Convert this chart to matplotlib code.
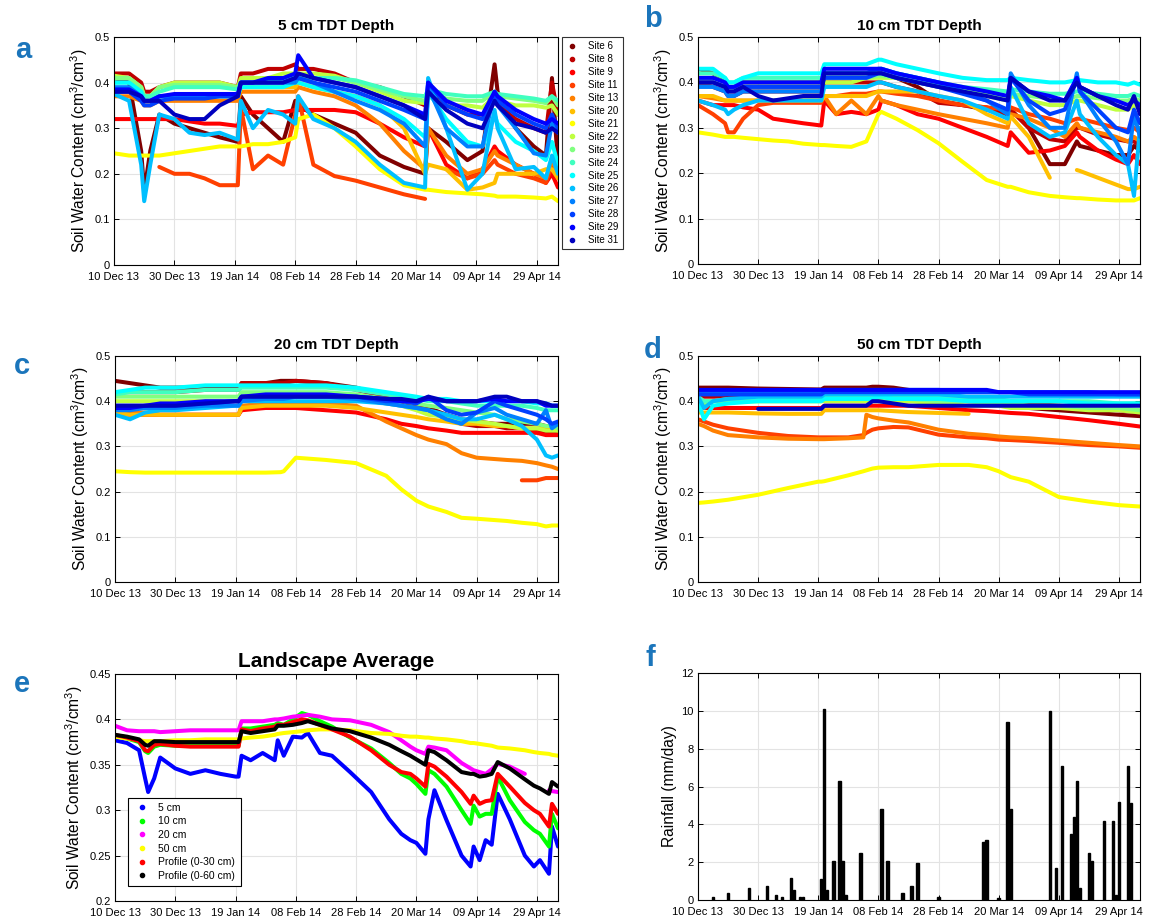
import numpy as np
import matplotlib
matplotlib.use("Agg")
import matplotlib.pyplot as plt
from matplotlib.lines import Line2D

plt.rcParams['font.family'] = ['Liberation Sans', 'DejaVu Sans']
plt.rcParams['mathtext.default'] = 'regular'

nan = None

# ---- common axis data (day 0 = 10 Dec 2013) ----
date_ticks = [0, 20, 40, 60, 80, 100, 120, 140]
date_labels = ['10 Dec 13', '30 Dec 13', '19 Jan 14', '08 Feb 14',
               '28 Feb 14', '20 Mar 14', '09 Apr 14', '29 Apr 14']

sites = ['Site 6', 'Site 8', 'Site 9', 'Site 11', 'Site 13', 'Site 20', 'Site 21', 'Site 22',
         'Site 23', 'Site 24', 'Site 25', 'Site 26', 'Site 27', 'Site 28', 'Site 29', 'Site 31']

# ---- (a) 5 cm and (b) 10 cm ----
days_ab = [0, 5, 9, 10, 12, 15, 20, 25, 30, 35, 41, 42, 46, 51, 56, 60, 61, 66, 73, 80, 88, 96,
           103, 104, 110, 117, 122, 126, 127, 133, 139, 143, 145, 147]

swc_5cm = [
    [0.41, 0.40, 0.25, 0.16, 0.25, 0.33, 0.31, 0.30, 0.29, 0.28, 0.27, 0.37, 0.33, 0.30, 0.27, 0.36, 0.35, 0.33, 0.31, 0.29, 0.24, 0.215, 0.20, 0.30, 0.27, 0.23, 0.25, 0.44, 0.38, 0.30, 0.26, 0.24, 0.41, 0.22],
    [0.42, 0.42, 0.40, 0.38, 0.38, 0.39, 0.40, 0.40, 0.40, 0.40, 0.39, 0.42, 0.42, 0.43, 0.43, 0.44, 0.43, 0.43, 0.42, 0.40, 0.39, 0.37, 0.35, 0.38, 0.35, 0.33, 0.33, 0.36, 0.35, 0.32, 0.30, 0.29, 0.40, 0.33],
    [0.32, 0.32, 0.32, 0.32, 0.32, 0.32, 0.32, 0.315, 0.31, 0.31, 0.305, 0.33, 0.335, 0.335, 0.335, 0.34, 0.34, 0.34, 0.34, 0.335, 0.31, 0.28, 0.26, 0.30, 0.22, 0.19, 0.21, 0.26, 0.25, 0.22, 0.20, 0.18, 0.20, 0.17],
    [nan, nan, nan, nan, nan, 0.215, 0.20, 0.20, 0.19, 0.175, 0.175, 0.345, 0.21, 0.24, 0.22, 0.33, 0.37, 0.22, 0.195, 0.185, 0.17, 0.155, 0.145, nan, 0.21, 0.19, 0.20, 0.23, 0.22, 0.20, 0.19, 0.18, 0.22, 0.19],
    [0.37, 0.37, 0.36, 0.35, 0.35, 0.36, 0.36, 0.36, 0.36, 0.36, 0.36, 0.38, 0.38, 0.38, 0.38, 0.38, 0.39, 0.38, 0.37, 0.35, 0.31, 0.25, 0.21, 0.30, 0.24, 0.20, 0.21, 0.25, 0.24, 0.22, 0.20, 0.19, 0.23, 0.20],
    [0.38, 0.38, 0.37, 0.36, 0.36, 0.37, 0.37, 0.37, 0.37, 0.37, 0.37, 0.39, 0.39, 0.39, 0.39, 0.39, 0.40, 0.39, 0.38, 0.37, 0.35, 0.30, 0.20, 0.22, 0.21, 0.165, 0.17, 0.18, 0.20, 0.20, 0.20, 0.21, 0.21, 0.19],
    [0.245, 0.24, 0.24, 0.24, 0.24, 0.24, 0.245, 0.25, 0.255, 0.26, 0.26, 0.26, 0.265, 0.265, 0.27, 0.28, 0.32, 0.33, 0.30, 0.26, 0.21, 0.175, 0.165, 0.165, 0.16, 0.157, 0.155, 0.152, 0.15, 0.15, 0.148, 0.146, 0.15, 0.14],
    [0.415, 0.41, 0.39, 0.37, 0.37, 0.39, 0.40, 0.40, 0.40, 0.40, 0.39, 0.41, 0.41, 0.41, 0.42, 0.42, 0.42, 0.42, 0.415, 0.40, 0.38, 0.36, 0.355, 0.37, 0.35, 0.35, 0.345, 0.37, 0.36, 0.35, 0.35, 0.345, 0.35, 0.33],
    [0.41, 0.41, 0.39, 0.37, 0.37, 0.39, 0.395, 0.395, 0.395, 0.395, 0.39, 0.40, 0.40, 0.405, 0.41, 0.41, 0.41, 0.41, 0.41, 0.40, 0.385, 0.37, 0.36, 0.38, 0.365, 0.36, 0.36, 0.38, 0.37, 0.365, 0.36, 0.355, 0.37, 0.35],
    [0.40, 0.40, 0.38, 0.37, 0.37, 0.38, 0.39, 0.39, 0.39, 0.39, 0.385, 0.40, 0.40, 0.40, 0.41, 0.41, 0.41, 0.41, 0.41, 0.405, 0.39, 0.375, 0.37, 0.385, 0.375, 0.37, 0.37, 0.38, 0.375, 0.37, 0.365, 0.36, 0.37, 0.36],
    [0.40, 0.40, 0.38, 0.36, 0.36, 0.37, 0.37, 0.37, 0.37, 0.37, 0.37, 0.39, 0.39, 0.39, 0.39, 0.40, 0.40, 0.39, 0.38, 0.37, 0.35, 0.32, 0.28, 0.38, 0.32, 0.27, 0.26, 0.33, 0.31, 0.27, 0.25, 0.23, 0.27, 0.22],
    [0.375, 0.36, 0.22, 0.14, 0.22, 0.33, 0.32, 0.29, 0.285, 0.29, 0.275, 0.36, 0.30, 0.34, 0.33, 0.31, 0.37, 0.32, 0.30, 0.27, 0.22, 0.18, 0.17, 0.41, 0.30, 0.165, 0.20, 0.34, 0.30, 0.21, 0.215, 0.19, 0.24, 0.20],
    [0.39, 0.39, 0.37, 0.36, 0.36, 0.37, 0.37, 0.37, 0.37, 0.37, 0.37, 0.40, 0.40, 0.40, 0.40, 0.40, 0.41, 0.40, 0.38, 0.36, 0.34, 0.31, 0.26, 0.39, 0.30, 0.26, 0.26, 0.38, 0.35, 0.30, 0.245, 0.24, 0.31, 0.29],
    [0.38, 0.38, 0.36, 0.35, 0.35, 0.36, 0.365, 0.365, 0.365, 0.37, 0.37, 0.40, 0.40, 0.40, 0.40, 0.41, 0.41, 0.40, 0.39, 0.38, 0.36, 0.34, 0.32, 0.40, 0.35, 0.33, 0.32, 0.37, 0.36, 0.33, 0.31, 0.30, 0.33, 0.30],
    [0.385, 0.385, 0.37, 0.36, 0.36, 0.37, 0.375, 0.375, 0.375, 0.375, 0.375, 0.40, 0.40, 0.41, 0.41, 0.42, 0.46, 0.41, 0.40, 0.39, 0.37, 0.35, 0.33, 0.40, 0.36, 0.34, 0.33, 0.38, 0.37, 0.34, 0.32, 0.31, 0.32, 0.31],
    [0.38, 0.38, 0.37, 0.36, 0.36, 0.36, 0.33, 0.32, 0.32, 0.35, 0.37, 0.40, 0.40, 0.40, 0.40, 0.41, 0.42, 0.41, 0.40, 0.39, 0.37, 0.35, 0.32, 0.38, 0.34, 0.31, 0.30, 0.36, 0.35, 0.31, 0.30, 0.29, 0.30, 0.29],
]

swc_10cm = [
    [0.43, 0.42, 0.40, 0.39, 0.39, 0.40, 0.40, 0.40, 0.40, 0.40, 0.40, 0.42, 0.42, 0.42, 0.42, 0.42, 0.42, 0.41, 0.39, 0.36, 0.35, 0.34, 0.33, 0.34, 0.30, 0.22, 0.22, 0.27, 0.26, 0.25, 0.24, 0.24, 0.26, 0.25],
    [0.40, 0.39, 0.38, 0.37, 0.37, 0.38, 0.38, 0.38, 0.38, 0.38, 0.38, 0.40, 0.40, 0.40, 0.40, 0.40, 0.40, 0.39, 0.38, 0.355, 0.35, 0.345, 0.33, 0.34, 0.30, 0.275, 0.27, 0.30, 0.30, 0.285, 0.275, 0.27, 0.27, 0.26],
    [0.36, 0.35, 0.35, 0.35, 0.35, 0.345, 0.34, 0.32, 0.315, 0.31, 0.305, 0.36, 0.33, 0.335, 0.33, 0.34, 0.36, 0.35, 0.33, 0.32, 0.30, 0.28, 0.26, 0.29, 0.245, 0.25, 0.26, 0.29, 0.28, 0.25, 0.23, 0.22, 0.24, 0.22],
    [0.35, 0.33, 0.31, 0.29, 0.29, 0.32, 0.35, 0.355, 0.355, 0.355, 0.355, 0.37, 0.37, 0.375, 0.375, 0.38, 0.38, 0.375, 0.37, 0.36, 0.35, 0.345, 0.34, 0.345, 0.33, 0.32, 0.31, 0.32, 0.32, 0.31, 0.30, 0.295, 0.30, 0.29],
    [0.37, 0.365, 0.36, 0.36, 0.36, 0.36, 0.36, 0.36, 0.36, 0.36, 0.36, 0.37, 0.33, 0.36, 0.33, 0.37, 0.36, 0.35, 0.34, 0.33, 0.32, 0.31, 0.30, 0.33, 0.32, 0.30, 0.28, 0.31, 0.30, 0.29, 0.28, 0.27, 0.28, 0.27],
    [0.37, 0.37, 0.36, 0.36, 0.36, 0.36, 0.36, 0.36, 0.36, 0.36, 0.36, 0.37, 0.37, 0.37, 0.37, 0.38, 0.38, 0.38, 0.38, 0.37, 0.36, 0.33, 0.31, 0.325, 0.28, 0.19, nan, 0.207, 0.205, 0.19, 0.175, 0.165, 0.165, 0.17],
    [0.29, 0.285, 0.28, 0.28, 0.28, 0.278, 0.275, 0.272, 0.27, 0.265, 0.262, 0.262, 0.26, 0.258, 0.27, 0.33, 0.335, 0.32, 0.295, 0.266, 0.225, 0.185, 0.17, 0.17, 0.158, 0.15, 0.147, 0.145, 0.145, 0.142, 0.14, 0.14, 0.14, 0.145],
    [0.40, 0.40, 0.39, 0.38, 0.38, 0.39, 0.39, 0.39, 0.39, 0.39, 0.39, 0.40, 0.40, 0.40, 0.41, 0.41, 0.41, 0.41, 0.40, 0.39, 0.38, 0.37, 0.36, 0.37, 0.36, 0.35, 0.35, 0.36, 0.36, 0.35, 0.34, 0.34, 0.35, 0.34],
    [0.41, 0.41, 0.40, 0.39, 0.39, 0.40, 0.40, 0.40, 0.40, 0.40, 0.40, 0.41, 0.41, 0.41, 0.41, 0.415, 0.415, 0.41, 0.40, 0.395, 0.385, 0.375, 0.37, 0.375, 0.37, 0.365, 0.36, 0.37, 0.37, 0.365, 0.36, 0.36, 0.365, 0.36],
    [0.42, 0.42, 0.41, 0.40, 0.40, 0.41, 0.41, 0.41, 0.41, 0.41, 0.41, 0.42, 0.42, 0.42, 0.42, 0.43, 0.43, 0.42, 0.41, 0.40, 0.39, 0.385, 0.38, 0.385, 0.38, 0.375, 0.375, 0.38, 0.38, 0.375, 0.37, 0.37, 0.375, 0.37],
    [0.43, 0.43, 0.41, 0.40, 0.40, 0.41, 0.42, 0.42, 0.42, 0.42, 0.42, 0.44, 0.44, 0.44, 0.44, 0.45, 0.45, 0.44, 0.43, 0.42, 0.41, 0.405, 0.405, 0.41, 0.405, 0.40, 0.40, 0.405, 0.405, 0.40, 0.40, 0.395, 0.40, 0.395],
    [0.36, 0.35, 0.34, 0.33, 0.34, 0.35, 0.36, 0.36, 0.36, 0.36, 0.36, 0.39, 0.39, 0.39, 0.39, 0.40, 0.40, 0.39, 0.38, 0.37, 0.36, 0.34, 0.32, 0.39, 0.31, 0.28, 0.29, 0.36, 0.33, 0.28, 0.24, 0.22, 0.15, 0.30],
    [0.39, 0.39, 0.38, 0.37, 0.37, 0.38, 0.38, 0.38, 0.38, 0.38, 0.38, 0.42, 0.42, 0.42, 0.42, 0.43, 0.43, 0.42, 0.41, 0.40, 0.38, 0.36, 0.33, 0.42, 0.35, 0.30, 0.30, 0.42, 0.38, 0.32, 0.27, 0.22, 0.33, 0.28],
    [0.40, 0.40, 0.39, 0.38, 0.38, 0.39, 0.39, 0.39, 0.39, 0.39, 0.39, 0.41, 0.41, 0.41, 0.41, 0.42, 0.42, 0.41, 0.40, 0.39, 0.375, 0.36, 0.34, 0.41, 0.36, 0.33, 0.34, 0.41, 0.38, 0.34, 0.30, 0.29, 0.34, 0.31],
    [0.41, 0.41, 0.40, 0.39, 0.39, 0.40, 0.40, 0.40, 0.40, 0.40, 0.40, 0.43, 0.43, 0.43, 0.43, 0.43, 0.43, 0.42, 0.41, 0.40, 0.39, 0.38, 0.37, 0.41, 0.38, 0.37, 0.36, 0.41, 0.39, 0.37, 0.36, 0.35, 0.36, 0.35],
    [0.40, 0.40, 0.39, 0.38, 0.38, 0.39, 0.37, 0.36, 0.365, 0.37, 0.37, 0.42, 0.42, 0.42, 0.42, 0.42, 0.42, 0.41, 0.40, 0.39, 0.38, 0.37, 0.36, 0.41, 0.38, 0.36, 0.36, 0.40, 0.39, 0.37, 0.35, 0.34, 0.37, 0.33],
]

# ---- (c) 20 cm ----
days_c = [0, 5, 10, 15, 20, 30, 40, 41, 42, 50, 55, 56, 60, 70, 80, 90, 95, 100, 104, 110, 115,
          120, 126, 130, 135, 140, 143, 145, 147]

swc_20cm = [
    [0.445, 0.44, 0.435, 0.43, 0.43, 0.43, 0.43, 0.43, 0.44, 0.44, 0.445, 0.445, 0.445, 0.44, 0.43, 0.41, 0.40, 0.39, 0.385, 0.37, 0.36, 0.355, 0.35, 0.35, 0.35, 0.35, 0.345, 0.345, 0.34],
    [0.42, 0.42, 0.42, 0.42, 0.42, 0.425, 0.425, 0.425, 0.44, 0.44, 0.44, 0.44, 0.445, 0.44, 0.425, 0.41, 0.40, 0.39, 0.38, 0.36, 0.35, 0.345, 0.345, 0.34, 0.34, 0.335, 0.33, 0.33, 0.33],
    [0.375, 0.37, 0.37, 0.37, 0.37, 0.37, 0.37, 0.37, 0.38, 0.385, 0.385, 0.385, 0.385, 0.38, 0.375, 0.36, 0.35, 0.345, 0.34, 0.335, 0.33, 0.33, 0.33, 0.33, 0.33, 0.33, 0.325, 0.325, 0.325],
    [nan, nan, nan, nan, nan, nan, nan, nan, nan, nan, nan, nan, nan, nan, nan, nan, nan, nan, nan, nan, nan, nan, nan, nan, 0.225, 0.225, 0.23, 0.23, 0.23],
    [0.38, 0.375, 0.375, 0.37, 0.37, 0.37, 0.37, 0.37, 0.39, 0.395, 0.395, 0.395, 0.395, 0.395, 0.39, 0.355, 0.34, 0.325, 0.315, 0.305, 0.285, 0.275, 0.272, 0.27, 0.268, 0.263, 0.258, 0.255, 0.25],
    [0.375, 0.37, 0.37, 0.37, 0.37, 0.37, 0.37, 0.37, 0.385, 0.39, 0.39, 0.39, 0.39, 0.39, 0.385, 0.375, 0.37, 0.365, 0.36, 0.355, 0.35, 0.35, 0.345, 0.345, 0.34, 0.34, 0.34, 0.34, 0.335],
    [0.245, 0.243, 0.242, 0.242, 0.242, 0.242, 0.242, 0.242, 0.242, 0.242, 0.243, 0.245, 0.275, 0.27, 0.263, 0.235, 0.205, 0.18, 0.167, 0.155, 0.142, 0.14, 0.137, 0.135, 0.131, 0.128, 0.123, 0.125, 0.125],
    [0.40, 0.40, 0.40, 0.40, 0.40, 0.40, 0.40, 0.40, 0.41, 0.41, 0.41, 0.41, 0.41, 0.41, 0.405, 0.395, 0.39, 0.38, 0.37, 0.365, 0.36, 0.355, 0.35, 0.345, 0.34, 0.34, 0.335, 0.335, 0.335],
    [0.41, 0.41, 0.41, 0.41, 0.41, 0.41, 0.41, 0.41, 0.42, 0.42, 0.42, 0.42, 0.42, 0.42, 0.415, 0.405, 0.40, 0.395, 0.39, 0.385, 0.38, 0.375, 0.37, 0.36, 0.355, 0.35, 0.345, 0.345, 0.34],
    [0.415, 0.42, 0.42, 0.42, 0.42, 0.425, 0.425, 0.425, 0.43, 0.43, 0.43, 0.43, 0.43, 0.43, 0.425, 0.415, 0.41, 0.405, 0.40, 0.40, 0.395, 0.39, 0.39, 0.39, 0.39, 0.385, 0.38, 0.38, 0.38],
    [0.42, 0.425, 0.43, 0.43, 0.43, 0.435, 0.435, 0.435, 0.435, 0.435, 0.435, 0.435, 0.435, 0.435, 0.43, 0.42, 0.415, 0.41, 0.405, 0.405, 0.40, 0.40, 0.40, 0.40, 0.40, 0.395, 0.395, 0.39, 0.39],
    [0.37, 0.36, 0.375, 0.38, 0.38, 0.385, 0.39, 0.39, 0.40, 0.40, 0.40, 0.40, 0.40, 0.40, 0.40, 0.395, 0.39, 0.385, 0.38, 0.37, 0.36, 0.36, 0.37, 0.36, 0.345, 0.315, 0.28, 0.275, 0.28],
    [0.38, 0.38, 0.385, 0.385, 0.385, 0.39, 0.39, 0.39, 0.40, 0.405, 0.405, 0.405, 0.41, 0.41, 0.405, 0.395, 0.39, 0.385, 0.38, 0.36, 0.35, 0.375, 0.385, 0.37, 0.36, 0.35, 0.38, 0.34, 0.35],
    [0.39, 0.39, 0.39, 0.39, 0.39, 0.395, 0.40, 0.40, 0.41, 0.41, 0.41, 0.41, 0.41, 0.41, 0.41, 0.40, 0.40, 0.395, 0.41, 0.38, 0.37, 0.375, 0.40, 0.39, 0.38, 0.37, 0.36, 0.35, 0.355],
    [0.385, 0.385, 0.39, 0.395, 0.395, 0.40, 0.40, 0.40, 0.41, 0.415, 0.415, 0.415, 0.415, 0.415, 0.41, 0.405, 0.40, 0.40, 0.405, 0.40, 0.40, 0.40, 0.405, 0.40, 0.40, 0.40, 0.39, 0.39, 0.39],
    [0.39, 0.39, 0.39, 0.39, 0.39, 0.395, 0.40, 0.40, 0.41, 0.41, 0.41, 0.41, 0.41, 0.41, 0.41, 0.405, 0.405, 0.40, 0.41, 0.40, 0.40, 0.40, 0.41, 0.41, 0.40, 0.40, 0.395, 0.39, 0.39],
]

# ---- (d) 50 cm ----
days_d = [0, 2, 5, 10, 20, 30, 40, 41, 42, 50, 55, 56, 58, 60, 65, 70, 80, 90, 96, 100, 104,
          110, 120, 130, 140, 147]

swc_50cm = [
    [0.43, 0.43, 0.43, 0.43, 0.428, 0.427, 0.426, 0.426, 0.43, 0.43, 0.43, 0.43, 0.432, 0.432, 0.43, 0.425, 0.415, 0.405, 0.40, 0.395, 0.39, 0.385, 0.38, 0.375, 0.37, 0.367],
    [0.41, 0.41, 0.41, 0.41, 0.41, 0.41, 0.41, 0.41, 0.415, 0.415, 0.415, 0.415, 0.415, 0.415, 0.415, 0.41, 0.405, 0.40, 0.40, 0.40, 0.40, 0.395, 0.39, 0.385, 0.38, 0.375],
    [0.39, 0.385, 0.385, 0.385, 0.385, 0.385, 0.385, 0.385, 0.39, 0.39, 0.39, 0.39, 0.39, 0.39, 0.39, 0.39, 0.385, 0.38, 0.378, 0.376, 0.374, 0.372, 0.365, 0.358, 0.35, 0.344],
    [0.36, 0.355, 0.348, 0.34, 0.33, 0.323, 0.32, 0.32, 0.32, 0.32, 0.325, 0.33, 0.337, 0.34, 0.343, 0.342, 0.326, 0.32, 0.318, 0.315, 0.314, 0.312, 0.308, 0.303, 0.30, 0.297],
    [0.35, 0.345, 0.335, 0.325, 0.32, 0.317, 0.316, 0.316, 0.316, 0.318, 0.32, 0.37, 0.365, 0.362, 0.357, 0.353, 0.337, 0.328, 0.325, 0.322, 0.32, 0.318, 0.313, 0.308, 0.303, 0.30],
    [0.375, 0.375, 0.375, 0.375, 0.373, 0.372, 0.372, 0.372, 0.38, 0.38, 0.38, 0.38, 0.38, 0.38, 0.378, 0.376, 0.374, 0.372, nan, nan, nan, nan, nan, nan, nan, nan],
    [0.175, 0.176, 0.178, 0.182, 0.193, 0.208, 0.222, 0.222, 0.223, 0.236, 0.245, 0.247, 0.251, 0.253, 0.254, 0.254, 0.259, 0.259, 0.254, 0.245, 0.232, 0.222, 0.188, 0.178, 0.17, 0.167],
    [0.40, 0.40, 0.40, 0.40, 0.40, 0.40, 0.40, 0.40, 0.40, 0.40, 0.40, 0.40, 0.40, 0.40, 0.40, 0.40, 0.395, 0.39, 0.39, 0.39, 0.385, 0.385, 0.385, 0.38, 0.38, 0.375],
    [0.395, 0.395, 0.40, 0.40, 0.40, 0.40, 0.40, 0.40, 0.405, 0.405, 0.405, 0.405, 0.405, 0.405, 0.405, 0.405, 0.40, 0.40, 0.395, 0.395, 0.395, 0.39, 0.39, 0.385, 0.385, 0.38],
    [0.41, 0.40, 0.40, 0.405, 0.405, 0.405, 0.405, 0.405, 0.41, 0.41, 0.41, 0.41, 0.41, 0.41, 0.41, 0.41, 0.41, 0.405, 0.405, 0.405, 0.40, 0.40, 0.40, 0.40, 0.395, 0.395],
    [0.40, 0.36, 0.39, 0.395, 0.40, 0.40, 0.40, 0.40, 0.405, 0.405, 0.405, 0.405, 0.405, 0.41, 0.405, 0.405, 0.405, 0.40, 0.40, 0.40, 0.40, 0.40, 0.40, 0.395, 0.395, 0.395],
    [0.41, 0.385, 0.40, 0.405, 0.41, 0.41, 0.41, 0.41, 0.415, 0.415, 0.415, 0.415, 0.415, 0.415, 0.415, 0.415, 0.415, 0.41, 0.41, 0.41, 0.41, 0.41, 0.41, 0.41, 0.41, 0.41],
    [0.42, 0.42, 0.42, 0.42, 0.42, 0.42, 0.42, 0.42, 0.425, 0.425, 0.425, 0.425, 0.425, 0.425, 0.425, 0.425, 0.425, 0.42, 0.42, 0.42, 0.42, 0.42, 0.42, 0.42, 0.415, 0.415],
    [0.415, 0.415, 0.415, 0.415, 0.415, 0.415, 0.415, 0.415, 0.42, 0.42, 0.42, 0.42, 0.42, 0.42, 0.42, 0.42, 0.42, 0.42, 0.42, 0.42, 0.42, 0.415, 0.415, 0.415, 0.415, 0.415],
    [0.425, 0.425, 0.425, 0.425, 0.425, 0.425, 0.425, 0.425, 0.425, 0.425, 0.425, 0.425, 0.425, 0.425, 0.425, 0.425, 0.425, 0.425, 0.425, 0.42, 0.42, 0.42, 0.42, 0.42, 0.42, 0.42],
    [nan, nan, nan, nan, 0.383, 0.383, 0.383, 0.383, 0.39, 0.39, 0.39, 0.39, 0.40, 0.40, 0.395, 0.39, 0.39, 0.39, 0.39, 0.39, 0.39, 0.39, 0.39, 0.39, 0.39, 0.39],
]

# ---- (e) landscape average ----
days_e = [0, 4, 8, 10, 11, 13, 15, 20, 25, 30, 35, 40, 41, 42, 45, 49, 53, 54, 56, 59, 62, 64,
          68, 72, 78, 85, 91, 95, 98, 100, 103, 104, 106, 110, 115, 118, 119, 121, 123, 125,
          127, 131, 136, 139, 141, 144, 145, 147]
avg_labels = ['5 cm', '10 cm', '20 cm', '50 cm', 'Profile (0-30 cm)', 'Profile (0-60 cm)']
avg_colors = ['#0000ff', '#00ff00', '#ff00ff', '#ffff00', '#ff0000', '#000000']
avg_5cm = [0.377, 0.374, 0.366, 0.335, 0.32, 0.335, 0.358, 0.346, 0.34, 0.344, 0.34, 0.337, 0.337, 0.36, 0.355, 0.363, 0.355, 0.377, 0.36, 0.381, 0.38, 0.385, 0.363, 0.36, 0.342, 0.32, 0.29, 0.274, 0.267, 0.264, 0.252, 0.29, 0.322, 0.289, 0.25, 0.238, 0.26, 0.245, 0.267, 0.262, 0.318, 0.29, 0.25, 0.238, 0.245, 0.23, 0.282, 0.26]
avg_10cm = [0.382, 0.379, 0.375, 0.365, 0.363, 0.37, 0.372, 0.371, 0.371, 0.371, 0.371, 0.371, 0.371, 0.39, 0.39, 0.392, 0.394, 0.396, 0.394, 0.40, 0.407, 0.405, 0.398, 0.392, 0.38, 0.368, 0.352, 0.34, 0.335, 0.329, 0.318, 0.344, 0.34, 0.326, 0.30, 0.285, 0.305, 0.293, 0.296, 0.296, 0.337, 0.311, 0.287, 0.278, 0.274, 0.26, 0.296, 0.28]
avg_20cm = [0.393, 0.388, 0.387, 0.387, 0.387, 0.387, 0.386, 0.387, 0.388, 0.388, 0.388, 0.388, 0.388, 0.398, 0.398, 0.398, 0.40, 0.40, 0.401, 0.403, 0.404, 0.405, 0.403, 0.40, 0.399, 0.394, 0.386, 0.377, 0.37, 0.366, 0.362, 0.37, 0.369, 0.366, 0.352, 0.346, 0.344, 0.342, 0.34, 0.345, 0.351, 0.348, 0.34, nan, nan, 0.322, 0.321, 0.32]
avg_50cm = [0.381, 0.379, 0.377, 0.376, 0.376, 0.376, 0.376, 0.377, 0.377, 0.378, 0.378, 0.378, 0.378, 0.379, 0.38, 0.381, 0.383, 0.384, 0.385, 0.386, 0.387, 0.388, 0.389, 0.389, 0.388, 0.385, 0.384, 0.382, 0.381, 0.381, 0.38, 0.38, 0.379, 0.378, 0.376, 0.374, 0.374, 0.373, 0.372, 0.371, 0.369, 0.368, 0.366, 0.364, 0.363, 0.362, 0.361, 0.36]
avg_prof30 = [0.383, 0.38, 0.376, 0.366, 0.365, 0.372, 0.373, 0.371, 0.37, 0.37, 0.37, 0.37, 0.37, 0.389, 0.387, 0.39, 0.392, 0.394, 0.394, 0.397, 0.40, 0.399, 0.394, 0.389, 0.381, 0.366, 0.35, 0.342, 0.34, 0.335, 0.326, 0.351, 0.348, 0.337, 0.32, 0.307, 0.316, 0.307, 0.31, 0.311, 0.34, 0.326, 0.308, 0.30, 0.296, 0.282, 0.307, 0.296]
avg_prof60 = [0.383, 0.381, 0.378, 0.372, 0.371, 0.376, 0.376, 0.375, 0.375, 0.375, 0.375, 0.375, 0.375, 0.387, 0.385, 0.387, 0.389, 0.393, 0.393, 0.394, 0.396, 0.398, 0.394, 0.39, 0.387, 0.38, 0.372, 0.365, 0.36, 0.356, 0.35, 0.366, 0.364, 0.355, 0.342, 0.34, 0.34, 0.337, 0.338, 0.34, 0.353, 0.346, 0.334, 0.327, 0.324, 0.318, 0.331, 0.326]

# ---- (f) rainfall ----
rain_day = [5, 10, 17, 23, 26, 28, 31, 32, 34, 35, 41, 42, 43, 45, 47, 48, 49, 54, 61, 63, 68, 71,
            73, 80, 95, 96, 100, 103, 104, 117, 119, 121, 124, 125, 126, 127, 130, 131, 135, 138,
            139, 140, 143, 144]
rain_mm = [0.15, 0.35, 0.65, 0.75, 0.25, 0.15, 1.15, 0.55, 0.15, 0.15, 1.1, 10.1, 0.55, 2.05, 6.3,
           2.05, 0.25, 2.5, 4.8, 2.05, 0.35, 0.75, 1.95, 0.15, 3.05, 3.15, 0.1, 9.4, 4.8, 10.0, 1.7,
           7.1, 3.5, 4.4, 6.3, 0.65, 2.5, 2.05, 4.2, 4.2, 0.25, 5.2, 7.1, 5.15]

# MATLAB jet(16), flipped (Site 6 dark red ... Site 31 dark blue)
site_colors = [(0.5, 0, 0), (0.75, 0, 0), (1, 0, 0), (1, 0.25, 0), (1, 0.5, 0), (1, 0.75, 0),
               (1, 1, 0), (0.75, 1, 0.25), (0.5, 1, 0.5), (0.25, 1, 0.75), (0, 1, 1),
               (0, 0.75, 1), (0, 0.5, 1), (0, 0.25, 1), (0, 0, 1), (0, 0, 0.75)]

W, H = 1151, 922
fig = plt.figure(figsize=(W / 100, H / 100), dpi=100)


def px_axes(left, top, right, bottom):
    return fig.add_axes([left / W, 1 - bottom / H, (right - left) / W, (bottom - top) / H])


def style(ax, ymin, ymax, yticks, ylabels):
    ax.set_xlim(0, 147)
    ax.set_ylim(ymin, ymax)
    ax.set_xticks(date_ticks)
    ax.set_xticklabels(date_labels)
    ax.set_yticks(yticks)
    ax.set_yticklabels(ylabels)
    ax.grid(True, color='#e3e3e3', lw=0.8)
    ax.set_axisbelow(True)
    ax.tick_params(direction='in', top=True, right=True, length=3.5, width=0.7,
                   labelsize=8)
    ax.tick_params(axis='x', pad=5)
    ax.tick_params(axis='y', pad=3)
    for s in ax.spines.values():
        s.set_linewidth(0.8)


def site_panel(ax, days, table, title):
    for vals, col in zip(table, site_colors):
        ax.plot(days, np.array(vals, dtype=float), color=col, lw=2.9,
                solid_capstyle='round', solid_joinstyle='round')
    style(ax, 0, 0.5, [0, 0.1, 0.2, 0.3, 0.4, 0.5], ['0', '0.1', '0.2', '0.3', '0.4', '0.5'])
    ax.set_title(title, fontsize=11, fontweight='bold', pad=5)
    ax.set_ylabel('Soil Water Content (cm$^3$/cm$^3$)', fontsize=11.2, labelpad=3)


ax_a = px_axes(114, 37, 558, 265)
ax_b = px_axes(698, 37, 1140, 264)
ax_c = px_axes(115, 356, 558, 582)
ax_d = px_axes(698, 356, 1140, 582)
ax_e = px_axes(115, 674, 558, 901)
ax_f = px_axes(698, 673, 1140, 900)

site_panel(ax_a, days_ab, swc_5cm, '5 cm TDT Depth')
site_panel(ax_b, days_ab, swc_10cm, '10 cm TDT Depth')
site_panel(ax_c, days_c, swc_20cm, '20 cm TDT Depth')
site_panel(ax_d, days_d, swc_50cm, '50 cm TDT Depth')

handles = [Line2D([], [], ls='none', marker='.', markersize=6, color=c) for c in site_colors]
leg = ax_a.legend(handles, sites, loc='upper left', bbox_to_anchor=(1.009, 1.0), fontsize=7,
                  frameon=True, fancybox=False, edgecolor='black', labelspacing=0.3,
                  handlelength=1.2, handletextpad=1.0, borderpad=0.45, borderaxespad=0)
leg.get_frame().set_linewidth(0.8)

# landscape average
for vals, col in zip([avg_5cm, avg_10cm, avg_20cm, avg_50cm, avg_prof30, avg_prof60], avg_colors):
    ax_e.plot(days_e, np.array(vals, dtype=float), color=col, lw=2.9,
              solid_capstyle='round', solid_joinstyle='round')
style(ax_e, 0.2, 0.45, [0.2, 0.25, 0.3, 0.35, 0.4, 0.45],
      ['0.2', '0.25', '0.3', '0.35', '0.4', '0.45'])
ax_e.set_title('Landscape Average', fontsize=15, fontweight='bold', pad=5)
ax_e.set_ylabel('Soil Water Content (cm$^3$/cm$^3$)', fontsize=11.2, labelpad=3)
h_e = [Line2D([], [], ls='none', marker='.', markersize=6, color=c) for c in avg_colors]
leg_e = ax_e.legend(h_e, avg_labels, loc='lower left', bbox_to_anchor=(0.03, 0.065), fontsize=7.5,
                    frameon=True, fancybox=False, edgecolor='black', labelspacing=0.35,
                    handlelength=1.6, handletextpad=0.8, borderpad=0.5, borderaxespad=0,
                    framealpha=1)
leg_e.get_frame().set_linewidth(0.8)

# rainfall
ax_f.bar(rain_day, rain_mm, width=0.8, color='black', edgecolor='black', linewidth=1.0)
style(ax_f, 0, 12, [0, 2, 4, 6, 8, 10, 12], ['0', '2', '4', '6', '8', '10', '12'])
ax_f.set_ylabel('Rainfall (mm/day)', fontsize=11.2, labelpad=3)

# panel letters
letter_color = '#1b75bb'
for txt, x, y in [('a', 23, 50), ('b', 653, 19), ('c', 22, 366), ('d', 653, 350),
                  ('e', 22, 684), ('f', 650, 658)]:
    fig.text(x / W, 1 - y / H, txt, fontsize=21, fontweight='bold', color=letter_color,
             ha='center', va='center')

fig.savefig('out.png', dpi=100)
